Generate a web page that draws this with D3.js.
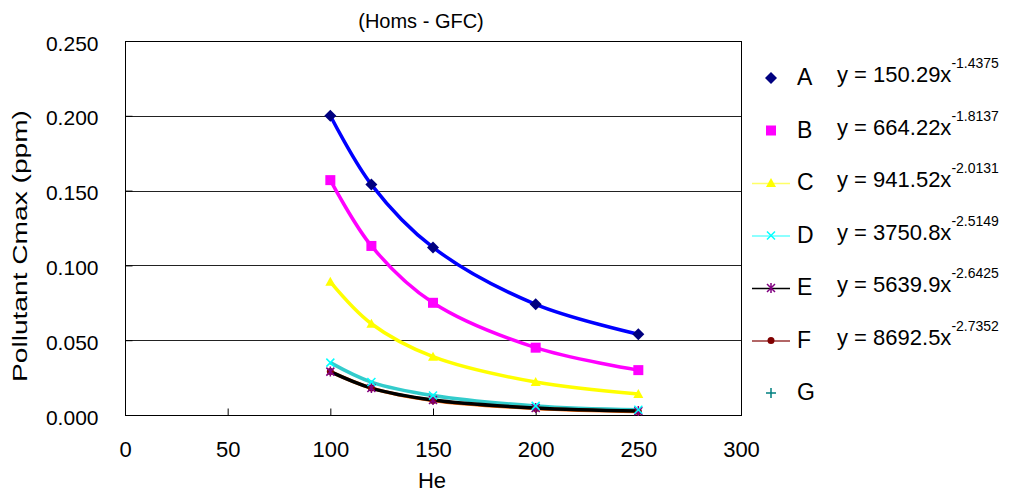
<!DOCTYPE html>
<html>
  <head>
    <meta charset="utf-8">
    <title>Homs-GFC</title>
    <style>
      body { margin: 0; background: #fff; }
      svg { font-family: Arial, 'Liberation Sans', sans-serif; }
      .tick text { fill: #000; }
      .legend text { font-size: 23px; }
    </style>
  </head>
  <body>
    <div id="chart"></div>
    <script src="https://cdn.jsdelivr.net/npm/d3@7"></script>
    <script>
      (function(d3) {
        'use strict';

        // He values and Cmax
        var he = [100, 120, 150, 200, 250];
        var seriesA = [0.200, 0.154, 0.112, 0.074, 0.054];
        var seriesB = [0.157, 0.113, 0.075, 0.045, 0.030];
        var seriesC = [0.089, 0.061, 0.039, 0.022, 0.014];
        var seriesD = [0.035, 0.022, 0.013, 0.0061, 0.0035];
        var seriesE = [0.029, 0.018, 0.010, 0.0047, 0.0026];
        var seriesF = [0.029, 0.018, 0.0097, 0.0044, 0.0024];
        var names = ['A', 'B', 'C', 'D', 'E', 'F', 'G'];
        var coef = ['150.29', '664.22', '941.52', '3750.8', '5639.9', '8692.5', null];
        var expo = ['-1.4375', '-1.8137', '-2.0131', '-2.5149', '-2.6425', '-2.7352', null];
        var xTicks = [0, 50, 100, 150, 200, 250, 300];
        var yTicks = [0, 0.05, 0.1, 0.15, 0.2, 0.25];

        var width = 1013, height = 494;
        var margin = {left: 125, top: 41, right: 272, bottom: 79};

        var svg = d3.select('#chart').append('svg')
          .attr('width', width).attr('height', height);

        var x = d3.scaleLinear().domain([0, 300]).range([margin.left, width - margin.right]);
        var y = d3.scaleLinear().domain([0, 0.25]).range([height - margin.bottom, margin.top]);

        // gridlines
        svg.append('g').selectAll('line')
          .data(yTicks.slice(1))
          .enter().append('line')
          .attr('x1', x(0)).attr('x2', x(300))
          .attr('y1', function(d) { return Math.round(y(d)) + 0.5; })
          .attr('y2', function(d) { return Math.round(y(d)) + 0.5; })
          .attr('stroke', '#222').attr('stroke-width', 1);

        // frame
        svg.append('rect')
          .attr('x', x(0) + 0.5).attr('y', y(0.25) + 0.5)
          .attr('width', x(300) - x(0)).attr('height', y(0) - y(0.25))
          .attr('fill', 'none').attr('stroke', '#000');

        var xAxis = svg.append('g')
          .attr('transform', 'translate(0,' + (y(0) + 0.5) + ')')
          .call(d3.axisBottom(x).tickValues(xTicks).tickSizeInner(-7).tickSizeOuter(0));
        xAxis.select('.domain').remove();
        xAxis.selectAll('.tick line').attr('stroke', '#000');
        xAxis.selectAll('.tick text').attr('y', 41).attr('dy', 0).style('font-size', '22px');

        var yAxis = svg.append('g')
          .attr('transform', 'translate(' + (x(0) + 0.5) + ',0)')
          .call(d3.axisLeft(y).tickValues(yTicks).tickFormat(d3.format('.3f')).tickSizeInner(-7).tickSizeOuter(0).tickPadding(27));
        yAxis.select('.domain').remove();
        yAxis.selectAll('.tick line').attr('stroke', '#000');
        yAxis.selectAll('.tick text').attr('dy', 9).style('font-size', '21px');

        // titles
        svg.append('text')
          .attr('x', 421).attr('y', 28).attr('text-anchor', 'middle')
          .style('font-size', '20px')
          .text('(Homs - GFC)');
        svg.append('text')
          .attr('x', 432).attr('y', 488).attr('text-anchor', 'middle')
          .style('font-size', '22px')
          .text('He');
        svg.append('text')
          .attr('transform', 'translate(27,' + 246 + ') rotate(-90)')
          .attr('text-anchor', 'middle')
          .attr('textLength', 272).attr('lengthAdjust', 'spacingAndGlyphs')
          .style('font-size', '20px')
          .text('Pollutant Cmax (ppm)');

        var line = d3.line()
          .x(function(d) { return x(d[0]); })
          .y(function(d) { return y(d[1]); })
          .curve(d3.curveCatmullRom);

        function pts(vals) { return he.map(function(h, i) { return [h, vals[i]]; }); }

        var curves = [
          {vals: seriesD, color: '#33CCCC', w: 3.5},
          {vals: seriesF, color: '#FF6600', w: 3.5},
          {vals: seriesE, color: '#000000', w: 3.5},
          {vals: seriesC, color: '#FFFF00', w: 3.5},
          {vals: seriesB, color: '#FF00FF', w: 3.5},
          {vals: seriesA, color: '#0000FF', w: 3.5}
        ];

        svg.append('g').selectAll('path')
          .data(curves)
          .enter().append('path')
          .attr('d', function(d) { return line(pts(d.vals)); })
          .attr('fill', 'none')
          .attr('stroke', function(d) { return d.color; })
          .attr('stroke-width', function(d) { return d.w; })
          .attr('stroke-linejoin', 'round');

        // marker symbols
        var markers = {
          A: function(g) { g.append('path').attr('d', 'M0,-6L6,0L0,6L-6,0Z').attr('fill', '#000080'); },
          B: function(g) { g.append('rect').attr('x', -5).attr('y', -5).attr('width', 10).attr('height', 10).attr('fill', '#FF00FF'); },
          C: function(g) { g.append('path').attr('d', 'M0,-5L5,4L-5,4Z').attr('fill', '#FFFF00'); },
          D: function(g) { g.append('path').attr('d', 'M-4,-4L4,4M-4,4L4,-4').attr('stroke', '#00FFFF').attr('stroke-width', 1.5); },
          E: function(g) { g.append('path').attr('d', 'M-4,-4L4,4M-4,4L4,-4M0,-5L0,5').attr('stroke', '#800080').attr('stroke-width', 1.5); },
          F: function(g) { g.append('circle').attr('r', 3.5).attr('fill', '#800000'); },
          G: function(g) { g.append('path').attr('d', 'M-5,0L5,0M0,-5L0,5').attr('stroke', '#008080').attr('stroke-width', 1.5); }
        };

        var dataSets = {A: seriesA, B: seriesB, C: seriesC, D: seriesD, E: seriesE, F: seriesF};
        ['F', 'E', 'D', 'C', 'B', 'A'].forEach(function(k) {
          dataSets[k].forEach(function(v, i) {
            var g = svg.append('g').attr('transform', 'translate(' + x(he[i]) + ',' + y(v) + ')');
            markers[k](g);
          });
        });

        // legend
        var lineColors = {C: '#FFFF66', D: '#66FFFF', E: '#000000', F: '#993333'};
        var legend = svg.selectAll('.legend')
          .data(names)
          .enter().append('g')
          .attr('class', 'legend')
          .attr('transform', function(d, i) { return 'translate(771,' + (78 + i * 52.5) + ')'; });

        legend.each(function(d) {
          var g = d3.select(this);
          if (lineColors[d]) {
            g.append('line').attr('x1', -19).attr('x2', 19).attr('y1', 0.5).attr('y2', 0.5)
              .attr('stroke', lineColors[d]).attr('stroke-width', 1.5);
          }
          markers[d](g);
        });

        legend.append('text')
          .attr('x', 26).attr('y', 7)
          .style('font-size', '23px')
          .text(function(d) { return d; });

        var eq = legend.filter(function(d, i) { return coef[i] !== null; })
          .append('text')
          .attr('x', 66).attr('y', 4)
          .style('font-size', '22px');
        eq.append('tspan').text(function(d) { return 'y = ' + coef[names.indexOf(d)] + 'x'; });
        eq.append('tspan')
          .attr('dy', -14).style('font-size', '14px')
          .text(function(d) { return expo[names.indexOf(d)]; });
      })(window.d3);
    </script>
  </body>
</html>
